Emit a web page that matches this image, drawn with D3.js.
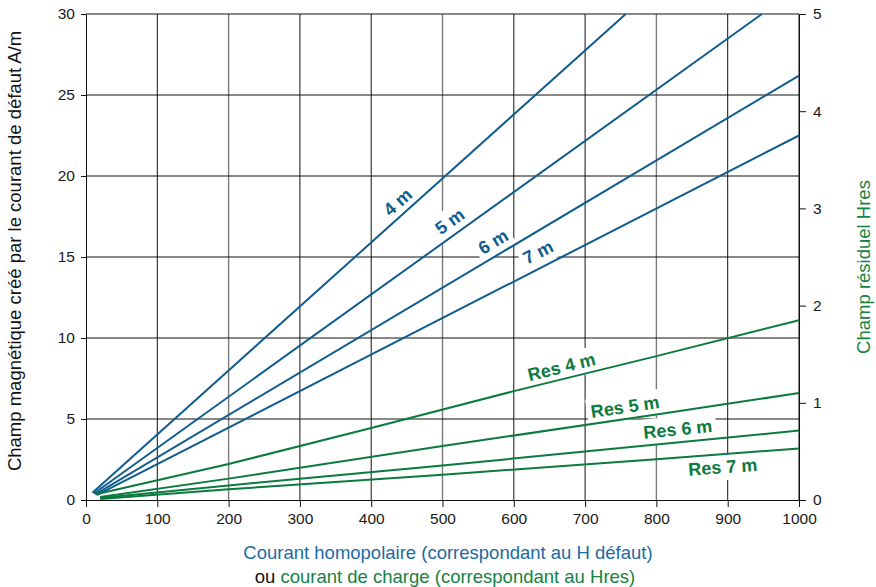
<!DOCTYPE html>
<html lang="fr">
<head>
<meta charset="utf-8">
<style>
body { margin: 0; background: #fff; }
svg { display: block; font-family: "Liberation Sans", Arial, Helvetica, sans-serif; }
.tick text { fill: #1a1a1a; }
</style>
</head>
<body>
<script src="https://cdn.jsdelivr.net/npm/d3@7"></script>
<script>

var width = 876,
    height = 587;
var margin = {top: 14, right: 77, bottom: 87, left: 86};

var blue = "#0f5c8e",
    green = "#0b7a3e",
    titleBlue = "#1c6aa5",
    titleGreen = "#16823f";

// courant (A) -> champ créé par le courant de défaut (A/m), axe de gauche
var faultNames = ["4 m", "5 m", "6 m", "7 m"];
var fault4m = [[9, 0.45], [757, 30]];
var fault5m = [[11, 0.4], [948, 30]];
var fault6m = [[13, 0.35], [1000, 26.2]];
var fault7m = [[15, 0.3], [1000, 22.5]];

// courant (A) -> champ résiduel Hres, axe de droite
var resNames = ["Res 4 m", "Res 5 m", "Res 6 m", "Res 7 m"];
var res4m = [[14, 0.06], [200, 0.37], [400, 0.74], [600, 1.12], [800, 1.48], [1000, 1.85]];
var res5m = [[20, 0.03], [200, 0.22], [500, 0.555], [800, 0.88], [1000, 1.1]];
var res6m = [[20, 0.02], [200, 0.15], [500, 0.355], [800, 0.57], [1000, 0.715]];
var res7m = [[20, 0.01], [200, 0.11], [500, 0.26], [800, 0.42], [1000, 0.53]];

// position des étiquettes, en unités des données
var faultLabelAt = [[437, 18.4], [510, 17.2], [571, 15.95], [634, 15.3]];
var resLabelAt = [[667, 1.37], [756, 0.96], [830, 0.73], [893, 0.34]];

var xTicks = d3.range(0, 1001, 100);
var yTicks = d3.range(0, 31, 5);
var y2Ticks = d3.range(0, 6, 1);
var greyGrid = [200, 500, 800];

var x = d3.scaleLinear().domain([0, 1000]).range([margin.left, width - margin.right]);
var y = d3.scaleLinear().domain([0, 30]).range([height - margin.bottom, margin.top]);
var y2 = d3.scaleLinear().domain([0, 5]).range([height - margin.bottom, margin.top]);

var fmt = d3.format("d");

var svg = d3.select("body").append("svg")
    .attr("width", width)
    .attr("height", height);

// grille
var grid = svg.append("g").attr("class", "grid");
grid.selectAll("line.v")
    .data(xTicks.filter(function(d) { return d > 0; }))
    .enter().append("line")
    .attr("x1", function(d) { return x(d); })
    .attr("x2", function(d) { return x(d); })
    .attr("y1", y(0))
    .attr("y2", y(30))
    .attr("stroke", function(d) { return greyGrid.indexOf(d) >= 0 ? "#7a7a7a" : "#111"; })
    .attr("stroke-width", function(d) { return greyGrid.indexOf(d) >= 0 ? 1.4 : 1; });
grid.selectAll("line.h")
    .data(yTicks.filter(function(d) { return d > 0; }))
    .enter().append("line")
    .attr("x1", x(0))
    .attr("x2", x(1000))
    .attr("y1", function(d) { return y(d); })
    .attr("y2", function(d) { return y(d); })
    .attr("stroke", "#111")
    .attr("stroke-width", 1);

// axes
function styleAxis(g) {
  g.selectAll(".tick text").attr("font-size", 15.5);
  g.selectAll("line, path").attr("stroke", "#111");
}
svg.append("g")
    .attr("transform", "translate(0," + y(0) + ")")
    .call(d3.axisBottom(x).tickValues(xTicks).tickFormat(fmt).tickSize(7).tickPadding(6).tickSizeOuter(0))
    .call(styleAxis);
svg.append("g")
    .attr("transform", "translate(" + x(0) + ",0)")
    .call(d3.axisLeft(y).tickValues(yTicks).tickFormat(fmt).tickSize(5).tickPadding(6).tickSizeOuter(0))
    .call(styleAxis);
svg.append("g")
    .attr("transform", "translate(" + x(1000) + ",0)")
    .call(d3.axisRight(y2).tickValues(y2Ticks).tickFormat(fmt).tickSize(7).tickPadding(7).tickSizeOuter(0))
    .call(styleAxis);

var labelBg = svg.append("g");
var linesLayer = svg.append("g");
var labelLayer = svg.append("g");

var faultSeries = [fault4m, fault5m, fault6m, fault7m];
var resSeries = [res4m, res5m, res6m, res7m];

var lineFault = d3.line()
    .x(function(d) { return x(d[0]); })
    .y(function(d) { return y(d[1]); });
var lineRes = d3.line()
    .x(function(d) { return x(d[0]); })
    .y(function(d) { return y2(d[1]); });

linesLayer.selectAll("path.fault")
    .data(faultSeries)
    .enter().append("path")
    .attr("d", lineFault)
    .attr("fill", "none")
    .attr("stroke", blue)
    .attr("stroke-width", 2);

linesLayer.selectAll("path.res")
    .data(resSeries)
    .enter().append("path")
    .attr("d", lineRes)
    .attr("fill", "none")
    .attr("stroke", green)
    .attr("stroke-width", 2);

function addLabel(text, pos, series, yScale, color) {
  var p0 = series[0], p1 = series[series.length - 1];
  var angle = Math.atan2(yScale(p1[1]) - yScale(p0[1]), x(p1[0]) - x(p0[0])) * 180 / Math.PI;
  var tr = "translate(" + x(pos[0]) + "," + yScale(pos[1]) + ") rotate(" + angle + ")";
  var t = labelLayer.append("text")
      .attr("transform", tr)
      .attr("text-anchor", "middle")
      .attr("dy", "0.35em")
      .attr("font-size", 18)
      .attr("font-weight", "bold")
      .attr("fill", color)
      .text(text);
  var bb = t.node().getBBox();
  labelBg.append("rect")
      .attr("transform", tr)
      .attr("x", bb.x - 4)
      .attr("y", bb.y - 3)
      .attr("width", bb.width + 8)
      .attr("height", bb.height + 6)
      .attr("fill", "#fff");
}

faultNames.forEach(function(n, i) { addLabel(n, faultLabelAt[i], faultSeries[i], y, blue); });
resNames.forEach(function(n, i) { addLabel(n, resLabelAt[i], resSeries[i], y2, green); });

// titres
svg.append("text")
    .attr("transform", "translate(21," + ((y(0) + y(30)) / 2 - 6) + ") rotate(-90)")
    .attr("text-anchor", "middle")
    .attr("font-size", 18.5)
    .attr("fill", "#111")
    .text("Champ magnétique créé par le courant de défaut A/m");

svg.append("text")
    .attr("transform", "translate(870," + ((y(0) + y(30)) / 2 + 10) + ") rotate(-90)")
    .attr("text-anchor", "middle")
    .attr("font-size", 18.5)
    .attr("fill", titleGreen)
    .text("Champ résiduel Hres");

svg.append("text")
    .attr("x", 448)
    .attr("y", 559)
    .attr("text-anchor", "middle")
    .attr("font-size", 18.5)
    .attr("fill", titleBlue)
    .text("Courant homopolaire (correspondant au H défaut)");

var l2 = svg.append("text")
    .attr("x", 445)
    .attr("y", 583)
    .attr("text-anchor", "middle")
    .attr("font-size", 18.5);
l2.append("tspan").attr("fill", "#111").text("ou ");
l2.append("tspan").attr("fill", titleGreen).text("courant de charge (correspondant au Hres)");

</script>
</body>
</html>
